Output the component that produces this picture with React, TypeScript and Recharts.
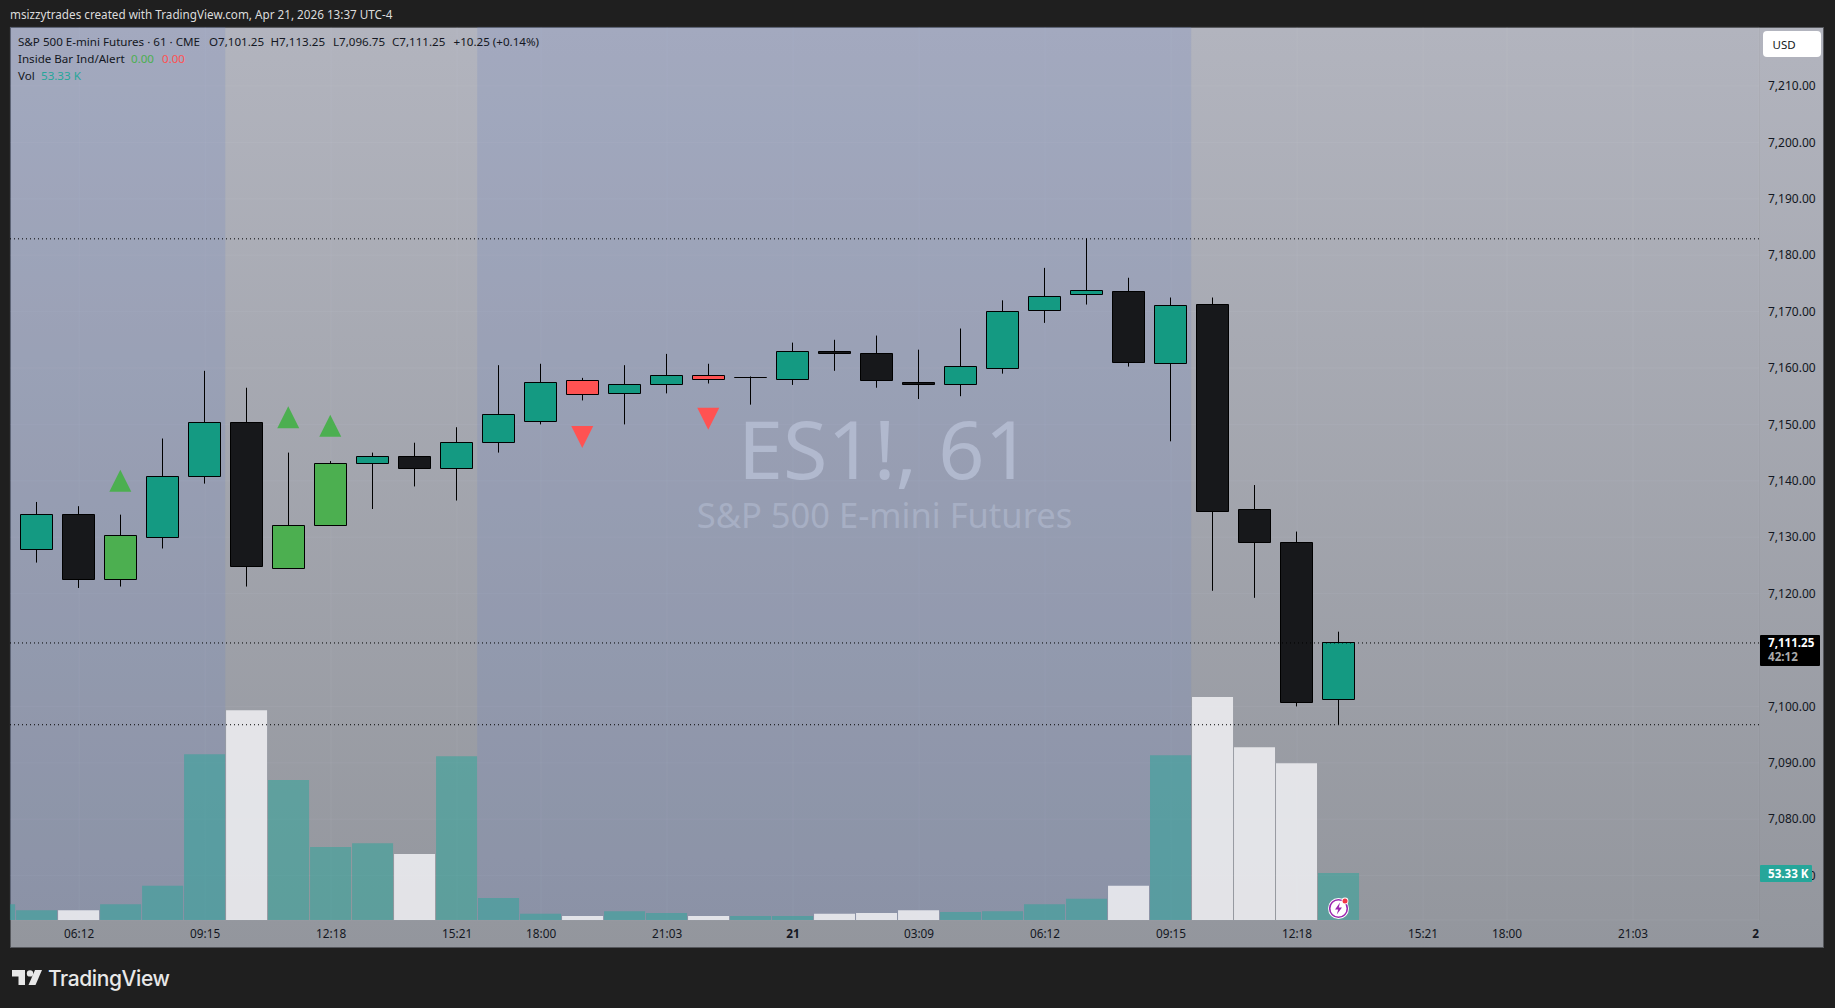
import React from 'react';
import { Bar, CartesianGrid, Cell, ComposedChart, Line, ReferenceArea, ReferenceLine, XAxis, YAxis } from 'recharts';

const uiFont = '"Noto Sans", sans-serif';

// one entry per bar, the first one is cut off by the left edge of the pane
const volumes = [18, 11, 11, 18, 39, 188, 238, 159, 83, 87, 75, 186, 25, 7, 4.5, 10, 8, 4.5, 4.5, 4.5, 7, 8, 11, 9, 10, 18, 24, 39, 187, 253, 196, 178, 53.33];
const volumeUp = [1, 1, 0, 1, 1, 1, 0, 1, 1, 1, 0, 1, 1, 1, 0, 1, 1, 0, 1, 1, 0, 0, 0, 1, 1, 1, 1, 0, 1, 0, 0, 0, 1];

const opens = [7127.75, 7134, 7122.5, 7130, 7140.75, 7150.25, 7124.5, 7132, 7143, 7144.25, 7142.25, 7146.75, 7150.5, 7157.75, 7155.5, 7157, 7158.75, 7158.25, 7158, 7163, 7162.5, 7157.5, 7157, 7160, 7170.25, 7173, 7173.5, 7160.75, 7171.25, 7135, 7129, 7101.25];
const highs = [7136.25, 7135.5, 7134, 7147.5, 7159.5, 7156.5, 7145, 7143.5, 7145, 7146.75, 7149.5, 7160.5, 7160.75, 7158.25, 7160.5, 7162.5, 7160.75, 7158.5, 7164.5, 7165, 7165.75, 7163.25, 7167, 7172, 7177.75, 7183, 7176, 7172.5, 7172.5, 7139.25, 7131, 7113.25];
const lows = [7125.5, 7121, 7121.25, 7128, 7139.5, 7121.25, 7124.5, 7132, 7135, 7139, 7136.5, 7145, 7150, 7154.25, 7150, 7155.5, 7157.25, 7153.5, 7157, 7159.5, 7156.5, 7154.5, 7155, 7159, 7168, 7171.25, 7160.25, 7147, 7120.5, 7119.25, 7100, 7096.75];
const closes = [7134, 7122.5, 7130.25, 7140.75, 7150.25, 7124.75, 7132, 7143, 7144.25, 7142.25, 7146.75, 7151.75, 7157.5, 7155.25, 7157, 7158.75, 7158, 7158.25, 7163, 7162.5, 7157.75, 7157, 7160.25, 7170, 7172.75, 7173.75, 7161, 7171, 7134.5, 7129, 7100.75, 7111.25];
const candleTones = ['up', 'down', 'insideUp', 'up', 'up', 'down', 'insideUp', 'insideUp', 'up', 'down', 'up', 'up', 'up', 'insideDown', 'up', 'up', 'insideDown', 'up', 'up', 'down', 'down', 'down', 'up', 'up', 'up', 'up', 'down', 'up', 'down', 'down', 'down', 'up'];

const upSignalBars = [2, 6, 7];
const upSignalPrices = [7140, 7151.25, 7149.75];
const downSignalBars = [13, 16];
const downSignalPrices = [7147.75, 7151];

// 7,110 is hidden behind the last price tag in the picture
const priceTicks = [7070, 7080, 7090, 7100, 7120, 7130, 7140, 7150, 7160, 7170, 7180, 7190, 7200, 7210];
const timeTicks = [1, 4, 7, 10, 12, 15, 18, 21, 24, 27, 30, 33, 35, 38, 41];
const timeLabels = ['06:12', '09:15', '12:18', '15:21', '18:00', '21:03', '21', '03:09', '06:12', '09:15', '12:18', '15:21', '18:00', '21:03', '22'];
const boldTimeLabels = ['21', '22'];
const priceLines = [7182.9, 7111.25, 7096.75];
const sessionBands = [[-0.626, 4.5], [10.5, 27.5]];

const toneColors: Record<string, string> = {
  up: '#149a82',
  down: '#17181b',
  insideUp: '#4caf50',
  insideDown: '#ff5252',
};

const rows = volumes.map((volume, k) => {
  const bar = k - 1;
  const upAt = upSignalBars.indexOf(bar);
  const downAt = downSignalBars.indexOf(bar);
  return {
    bar,
    volume,
    open: bar >= 0 ? opens[bar] : null,
    high: bar >= 0 ? highs[bar] : null,
    low: bar >= 0 ? lows[bar] : null,
    close: bar >= 0 ? closes[bar] : null,
    tone: bar >= 0 ? candleTones[bar] : null,
    upSignal: upAt >= 0 ? upSignalPrices[upAt] : null,
    downSignal: downAt >= 0 ? downSignalPrices[downAt] : null,
  };
});

const Candle = (props: any) => {
  const { x, y, width, height, payload } = props;
  if (payload.open == null || !height) return null;
  const perPoint = height / (payload.high - payload.low);
  const bodyTop = Math.floor(y + (payload.high - Math.max(payload.open, payload.close)) * perPoint) + 0.5;
  const bodyBottom = Math.floor(y + (payload.high - Math.min(payload.open, payload.close)) * perPoint) + 0.5;
  const mid = Math.round(x + width / 2) + 0.5;
  const half = Math.floor(width / 2);
  return (
    <g>
      <line x1={mid} x2={mid} y1={y} y2={y + height} stroke="#000" strokeWidth={1} />
      {/* path, so a doji with no body still shows as a flat line */}
      <path
        d={`M${mid - half} ${bodyTop} H${mid + half} V${bodyBottom} H${mid - half} Z`}
        fill={toneColors[payload.tone]}
        stroke="#000"
        strokeWidth={1}
      />
    </g>
  );
};

const signalDot = (direction: number, color: string) => (props: any) => {
  const { cx, cy, value, key } = props;
  if (value == null || cy == null) return <g key={key} />;
  const points = `${cx},${cy - 11 * direction} ${cx + 11},${cy + 11 * direction} ${cx - 11},${cy + 11 * direction}`;
  return <polygon key={key} points={points} fill={color} />;
};

const TimeTick = (props: any) => {
  const { x, payload } = props;
  const label = timeLabels[timeTicks.indexOf(payload.value)];
  const bold = boldTimeLabels.includes(label);
  // the last label runs under the price scale, so only its left half shows.
  // the tick's own y sits one axis height too low next to the hidden x axis
  const left = x - 40;
  return (
    <svg x={left} y={920} width={Math.min(80, 1759 - left)} height={27} overflow="hidden">
      <text
        x={40}
        y={18}
        textAnchor="middle"
        fontFamily={uiFont}
        fontSize={11.8}
        fontWeight={bold ? 700 : 400}
        fill="#131722"
      >
        {label}
      </text>
    </svg>
  );
};

const formatPrice = (value: number) =>
  value.toLocaleString('en-US', { minimumFractionDigits: 2, maximumFractionDigits: 2 });

const Label = ({ x, y, color = '#131722', size = 11.6, weight = 400, children }: any) => (
  <div
    style={{
      position: 'absolute',
      left: x,
      top: y,
      transform: 'translateY(-50%)',
      color,
      fontSize: size,
      fontWeight: weight,
      fontFamily: uiFont,
      lineHeight: 1,
      whiteSpace: 'nowrap',
    }}
  >
    {children}
  </div>
);

const centered = (y: number, size: number, color: string, text: string) => (
  <div
    style={{
      position: 'absolute',
      left: 10,
      width: 1749,
      top: y,
      textAlign: 'center',
      transform: 'translateY(-50%)',
      fontFamily: uiFont,
      fontSize: size,
      lineHeight: 1,
      color,
      whiteSpace: 'nowrap',
    }}
  >
    {text}
  </div>
);

export default function App() {
  return (
    <div style={{ position: 'absolute', left: 0, top: 0, width: 1835, height: 1008, background: '#1f1f1f', overflow: 'hidden' }}>
      <Label x={10} y={15} color="#dcdcdc" size={11.7}>
        msizzytrades created with TradingView.com, Apr 21, 2026 13:37 UTC-4
      </Label>

      {/* pane background, watermark sits under the chart svg */}
      <div
        style={{
          position: 'absolute',
          left: 10,
          top: 27,
          width: 1814,
          height: 921,
          boxSizing: 'border-box',
          border: '1px solid #55575c',
          background: 'linear-gradient(180deg, #b2b4be 0%, #93969d 100%)',
        }}
      />
      {centered(447, 81, '#c5c8d1', 'ES1!, 61')}
      {centered(515, 34.5, '#b8bcc4', 'S&P 500 E-mini Futures')}

      <div style={{ position: 'absolute', left: 0, top: 0 }}>
        <ComposedChart width={1835} height={1008} data={rows} margin={{ top: 27, right: 11, bottom: 61, left: 10 }}>
          <CartesianGrid xAxisId="time" yAxisId="price" stroke="rgba(240,243,250,0.06)" />
          <XAxis
            xAxisId="time"
            dataKey="bar"
            type="number"
            scale="linear"
            domain={[-0.645, 41.0]}
            allowDataOverflow
            ticks={timeTicks}
            interval={0}
            height={27}
            tick={<TimeTick />}
            tickLine={false}
            axisLine={false}
          />
          <XAxis xAxisId="candle" dataKey="bar" type="number" scale="linear" domain={[-0.626, 41.02]} allowDataOverflow hide />
          <YAxis
            yAxisId="price"
            orientation="right"
            type="number"
            domain={[7062.13, 7220.46]}
            allowDataOverflow
            ticks={priceTicks}
            interval={0}
            width={65}
            tickFormatter={formatPrice}
            tick={{ fontFamily: uiFont, fontSize: 12, fill: '#131722' }}
            tickLine={false}
            axisLine={false}
            tickMargin={3}
          />
          <YAxis yAxisId="volume" type="number" domain={[0, 1013.6]} allowDataOverflow hide />

          {sessionBands.map(([from, to]) => (
            <ReferenceArea
              key={from}
              xAxisId="candle"
              yAxisId="price"
              x1={from}
              x2={to}
              fill="#6e86c4"
              fillOpacity={0.22}
              stroke="none"
            />
          ))}

          <Bar xAxisId="time" yAxisId="volume" dataKey="volume" barSize={41} isAnimationActive={false}>
            {rows.map((row, k) => (
              <Cell key={row.bar} fill={volumeUp[k] ? 'rgba(38,166,154,0.5)' : 'rgba(240,240,243,0.86)'} />
            ))}
          </Bar>

          {priceLines.map((price) => (
            <ReferenceLine
              key={price}
              xAxisId="time"
              yAxisId="price"
              y={price}
              stroke="#000"
              strokeWidth={1}
              strokeDasharray="1 3"
            />
          ))}

          <Bar
            xAxisId="candle"
            yAxisId="price"
            dataKey={(row: any) => (row.open == null ? null : [row.low, row.high])}
            barSize={33}
            shape={<Candle />}
            isAnimationActive={false}
          />
          <Line
            xAxisId="candle"
            yAxisId="price"
            dataKey="upSignal"
            stroke="none"
            dot={signalDot(1, '#4caf50')}
            activeDot={false}
            isAnimationActive={false}
          />
          <Line
            xAxisId="candle"
            yAxisId="price"
            dataKey="downSignal"
            stroke="none"
            dot={signalDot(-1, '#ff5252')}
            activeDot={false}
            isAnimationActive={false}
          />
        </ComposedChart>
      </div>

      {/* legend rows */}
      <Label x={18} y={42}>S&amp;P 500 E-mini Futures · 61 · CME</Label>
      <Label x={209} y={42}>O7,101.25</Label>
      <Label x={270.5} y={42}>H7,113.25</Label>
      <Label x={333} y={42}>L7,096.75</Label>
      <Label x={392} y={42}>C7,111.25</Label>
      <Label x={453.5} y={42}>+10.25 (+0.14%)</Label>
      <Label x={18} y={59}>Inside Bar Ind/Alert</Label>
      <Label x={131} y={59} color="#4caf50">0.00</Label>
      <Label x={162} y={59} color="#ff5252">0.00</Label>
      <Label x={18} y={76}>Vol</Label>
      <Label x={41} y={76} color="#26a69a">53.33 K</Label>

      {/* price scale extras */}
      <div style={{ position: 'absolute', left: 1759, top: 28, width: 1, height: 892, background: 'rgba(0,0,0,0.04)' }} />
      <div style={{ position: 'absolute', left: 1763, top: 31, width: 58, height: 26, background: '#fff', borderRadius: 4 }} />
      <Label x={1772.5} y={45} size={11.5} color="#131722">USD</Label>

      <div style={{ position: 'absolute', left: 1760, top: 635, width: 60, height: 31, background: '#000', borderRadius: 1 }} />
      <Label x={1768} y={643} color="#fff" weight={700} size={11.6}>7,111.25</Label>
      <Label x={1768} y={657} color="#aaaaaa" weight={700} size={11.6}>42:12</Label>

      <div style={{ position: 'absolute', left: 1760, top: 865, width: 52, height: 17, background: '#26a69a', borderRadius: 1 }} />
      <Label x={1768} y={874} color="#fff" weight={700} size={11.6}>53.33 K</Label>

      {/* lightning badge on the last volume bar */}
      <svg style={{ position: 'absolute', left: 1327, top: 896 }} width={24} height={24} viewBox="0 0 24 24">
        <circle cx={11.5} cy={12.5} r={10.5} fill="#fff" />
        <circle cx={11.5} cy={12.5} r={8.8} fill="#fff" stroke="#9c27b0" strokeWidth={1.6} />
        <path d="M13 6.5 L8 13.5 H11.2 L9.8 18.5 L15 11.5 H11.8 Z" fill="#9c27b0" />
        <circle cx={18} cy={5} r={3.4} fill="#fff" />
        <circle cx={18} cy={5} r={2.5} fill="#f23645" />
      </svg>

      {/* footer logo */}
      <svg style={{ position: 'absolute', left: 12, top: 970 }} width={30} height={16} viewBox="0 0 30 16">
        <path d="M0 0 H13 V15 H6.5 V6.5 H0 Z" fill="#e8e8e8" />
        <circle cx={18} cy={3.4} r={3.2} fill="#e8e8e8" />
        <path d="M23 0 H30 L23.5 15 H16.5 Z" fill="#e8e8e8" />
      </svg>
      <Label x={48} y={978} color="#e8e8e8" size={21} weight={500}>
        <span style={{ fontFamily: 'Inter, sans-serif', letterSpacing: -0.4 }}>TradingView</span>
      </Label>
    </div>
  );
}
